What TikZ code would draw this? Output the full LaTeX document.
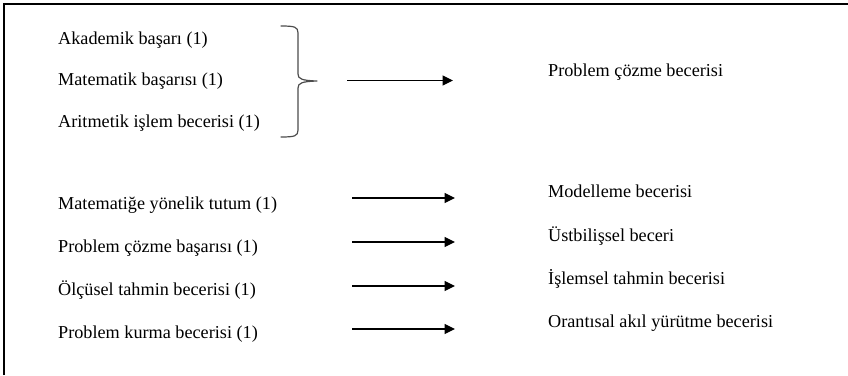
\documentclass[tikz,border=0pt]{standalone}
\usepackage{fontspec}
\setmainfont{Liberation Serif}
\usetikzlibrary{arrows.meta}
\tikzset{
  lbl/.style={anchor=base west, inner sep=0pt, font=\fontsize{18.2}{22}\selectfont},
  conn/.style={line width=1.1pt, -{Triangle[length=10.5pt,width=10pt]}},
  brace/.style={draw=black!70, line width=1.2pt, line cap=round, line join=round},
  frameline/.style={line width=1.6pt}
}
\begin{document}
\begin{tikzpicture}[x=1pt,y=-1pt]
\useasboundingbox (0,0) rectangle (848,375);
% open frame: top and left edges only
\draw[frameline] (4,375) -- (4,4) -- (848,4);

% first group: three inputs bracketed together
\node[lbl] (ak) at (58,44) {Akademik başarı (1)};
\node[lbl] (mb) at (58,85.5) {Matematik başarısı (1)};
\node[lbl] (ai) at (58,127) {Aritmetik işlem becerisi (1)};
\draw[brace] (281,26) .. controls (295,26) and (298,27) .. (298,33)
  -- (298,74) .. controls (298,79) and (302,80.5) .. (317,81)
  .. controls (302,81.5) and (298,83) .. (298,88)
  -- (298,130) .. controls (298,136) and (295,137) .. (281,137);
\node[lbl] (pcb) at (548,76) {Problem çözme becerisi};
\coordinate (s0) at (347,80.5);
\coordinate (e0) at (453,80.5);
\draw[conn] (s0) -- (e0);

% second group: one-to-one pairs
\node[lbl] (l1) at (58,209) {Matematiğe yönelik tutum (1)};
\node[lbl] (l2) at (58,252) {Problem çözme başarısı (1)};
\node[lbl] (l3) at (58,295) {Ölçüsel tahmin becerisi (1)};
\node[lbl] (l4) at (58,338) {Problem kurma becerisi (1)};

\node[lbl] (r1) at (548,197) {Modelleme becerisi};
\node[lbl] (r2) at (548,241) {Üstbilişsel beceri};
\node[lbl] (r3) at (548,284) {İşlemsel tahmin becerisi};
\node[lbl] (r4) at (548,327) {Orantısal akıl yürütme becerisi};

\foreach \i/\y in {1/198,2/242,3/286,4/329}{
  \coordinate (s\i) at (352,\y);
  \coordinate (e\i) at (455,\y);
  \draw[conn] (s\i) -- (e\i);
}
\end{tikzpicture}
\end{document}
